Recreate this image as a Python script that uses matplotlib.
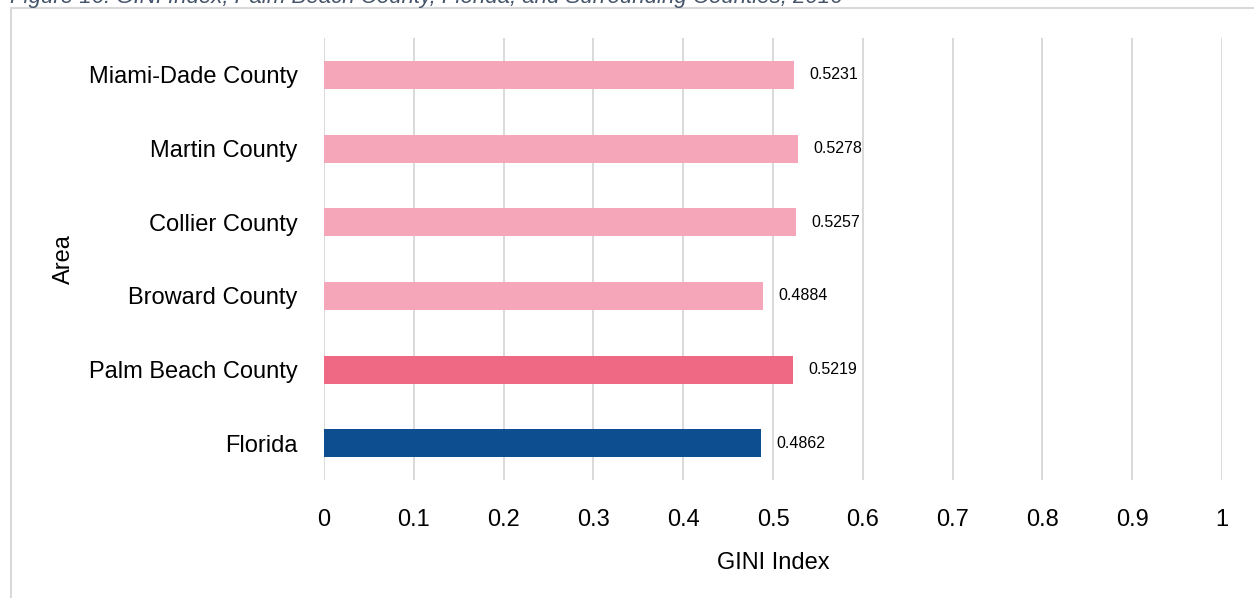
import matplotlib.pyplot as plt
from matplotlib.lines import Line2D

plt.rcParams['font.family'] = ['Liberation Sans', 'DejaVu Sans']

# bottom to top
areas = ['Florida', 'Palm Beach County', 'Broward County',
         'Collier County', 'Martin County', 'Miami-Dade County']
gini = [0.4862, 0.5219, 0.4884, 0.5257, 0.5278, 0.5231]
colors = ['#0C4E90', '#EF6884', '#F5A6B8', '#F5A6B8', '#F5A6B8', '#F5A6B8']
x_ticks = [0, 0.1, 0.2, 0.3, 0.4, 0.5, 0.6, 0.7, 0.8, 0.9, 1]
x_labels = ['0', '0.1', '0.2', '0.3', '0.4', '0.5', '0.6', '0.7', '0.8', '0.9', '1']

fig = plt.figure(figsize=(12.54, 5.98), dpi=100)
ax = fig.add_axes([0.2584, 0.1973, 0.7161, 0.7391])

y = list(range(len(areas)))
ax.barh(y, gini, height=0.38, color=colors, zorder=3)

for yi, v in zip(y, gini):
    ax.annotate(f'{v:.4f}', xy=(v, yi), xytext=(11, 0), textcoords='offset points',
                va='center', ha='left', fontsize=11.5, color='#000000')

ax.set_xlim(0, 1)
ax.set_ylim(-0.5, len(areas) - 0.5)
ax.set_xticks(x_ticks)
ax.set_xticklabels(x_labels)
ax.set_yticks(y)
ax.set_yticklabels(areas)
ax.tick_params(axis='both', length=0, labelsize=17)
ax.tick_params(axis='y', pad=19)
ax.tick_params(axis='x', pad=21)
ax.grid(axis='x', color='#D9D9D9', linewidth=1.4, zorder=0)
ax.set_axisbelow(True)
for s in ax.spines.values():
    s.set_visible(False)

ax.set_xlabel('GINI Index', fontsize=17, labelpad=15)
ax.set_ylabel('Area', fontsize=17, labelpad=10)

# frame around the chart (left and top edges visible)
fig.add_artist(Line2D([11 / 1254, 11 / 1254], [0, 1 - 8 / 598],
                      transform=fig.transFigure, color='#D9D9D9', linewidth=1.5))
fig.add_artist(Line2D([11 / 1254, 1], [1 - 8 / 598, 1 - 8 / 598],
                      transform=fig.transFigure, color='#D9D9D9', linewidth=1.5))

# title mostly cut off at the top edge, as in the source
fig.text(10 / 1254, 1 - 3 / 598,
         'Figure 16. GINI Index, Palm Beach County, Florida, and Surrounding Counties, 2016',
         fontsize=16, style='italic', color='#44546A', ha='left', va='baseline')

fig.savefig('out.png', dpi=100)
